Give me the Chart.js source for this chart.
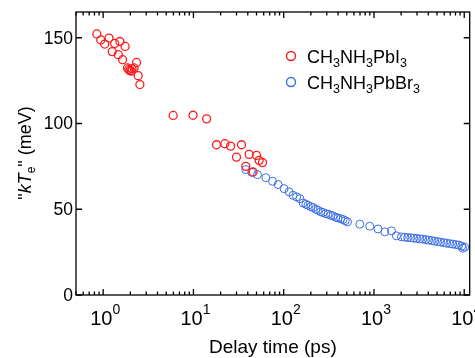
<!DOCTYPE html>
<html>
<head>
<meta charset="utf-8">
<script src="https://cdn.jsdelivr.net/npm/chart.js@4.4.1/dist/chart.umd.min.js"></script>
<style>
  html, body { margin: 0; padding: 0; background: #fff; }
  canvas { display: block; }
</style>
</head>
<body>
<canvas id="chart" width="475" height="358"></canvas>
<script>
// CH3NH3PbI3 (red)
const pbi3Time = [0.85, 0.94, 1.04, 1.16, 1.26, 1.34, 1.47, 1.53, 1.64, 1.75, 1.86, 1.92, 1.98, 2.05, 2.09, 2.2, 2.34, 2.44, 2.55,
  5.96, 9.9, 14.0, 18.0, 22.3, 25.8, 30.0, 34.1, 38.0, 41.4, 45.8, 50.0, 53.4, 58.2];
const pbi3Kt = [152.2, 148.7, 146.3, 149.8, 141.9, 146.7, 140.1, 147.8, 137.2, 144.9, 132.4, 131.5, 130.8, 130.5, 131.8, 132.4, 135.6, 127.9, 122.7,
  104.7, 104.8, 102.7, 87.6, 88.2, 86.8, 80.4, 87.6, 75.0, 82.0, 71.7, 81.4, 78.5, 77.2];

// CH3NH3PbBr3 (blue)
const pbbr3Time = [38, 44.3, 51.3, 63.4, 75.2, 86.7, 101, 115, 127, 139, 151, 164, 176, 186, 200, 212, 227, 240, 258, 273,
  292, 310, 332, 352, 378, 400, 429, 455, 481, 509, 697, 898, 1109, 1317, 1563, 1775, 2016, 2195, 2367, 2556,
  2760, 2980, 3215, 3470, 3746, 4044, 4366, 4713, 5087, 5492, 5928, 6400, 6908, 7457, 8050, 8690, 9380, 9600, 10120];
const pbbr3Kt = [73.1, 71.5, 70.2, 68.4, 66.3, 64.4, 62.0, 60.1, 58.1, 57.2, 56.2, 53.7, 52.9, 52.3, 51.5, 51.0, 50.0, 49.4, 48.5, 48.1,
  47.4, 47.1, 46.5, 46.1, 45.3, 44.9, 44.5, 44.0, 43.3, 42.6, 41.3, 40.1, 38.5, 36.8, 37.4, 34.5, 33.9, 33.7, 33.5, 33.4,
  33.1, 33.0, 32.7, 32.6, 32.3, 32.0, 31.7, 31.4, 31.1, 30.8, 30.5, 30.2, 29.9, 29.7, 29.4, 29.1, 28.5, 27.3, 27.9];

const yTicks = [0, 50, 100, 150];
const xDecades = [1, 10, 100, 1000, 10000];
const xExponents = ["0", "1", "2", "3", "4"];

const seriesNames = ["CH|3|NH|3|PbI|3", "CH|3|NH|3|PbBr|3"];
const seriesColors = ["#ff1a1a", "#3c6fe6"];

const FONT = "'Liberation Sans', Arial, sans-serif";

function toPoints(xs, ys) {
  return xs.map((x, i) => ({ x, y: ys[i] }));
}

// draws runs of text with different fonts / offsets, returns width
function drawRuns(ctx, runs, x, y, align) {
  let total = 0;
  runs.forEach((r) => { ctx.font = r.font; total += ctx.measureText(r.t).width; });
  let cx = align === "center" ? x - total / 2 : x;
  ctx.textAlign = "left";
  runs.forEach((r) => {
    ctx.font = r.font;
    ctx.fillText(r.t, cx, y + (r.dy || 0));
    cx += ctx.measureText(r.t).width;
  });
  return total;
}

const framePlugin = {
  id: "frame",
  afterDraw(chart) {
    const { ctx, chartArea: a, scales } = chart;
    const xs = scales.x, ys = scales.y;
    ctx.save();
    ctx.strokeStyle = "#000";
    ctx.fillStyle = "#000";
    ctx.lineWidth = 1.3;
    ctx.strokeRect(a.left, a.top, a.right - a.left, a.bottom - a.top);

    // x ticks (inward, top and bottom)
    ctx.beginPath();
    for (let d = 0.1; d <= 10000; d *= 10) {
      for (let m = 1; m <= 9; m++) {
        const v = d * m;
        if (v < xs.min || v > xs.max) continue;
        const px = xs.getPixelForValue(v);
        const len = m === 1 ? 6 : 3.5;
        ctx.moveTo(px, a.bottom); ctx.lineTo(px, a.bottom - len);
        ctx.moveTo(px, a.top); ctx.lineTo(px, a.top + len);
      }
    }
    yTicks.forEach((v) => {
      const py = ys.getPixelForValue(v);
      ctx.moveTo(a.left, py); ctx.lineTo(a.left + 6, py);
      ctx.moveTo(a.right, py); ctx.lineTo(a.right - 6, py);
    });
    ctx.stroke();

    // y tick labels
    ctx.textBaseline = "middle";
    ctx.textAlign = "right";
    ctx.font = "17.5px " + FONT;
    yTicks.forEach((v) => {
      ctx.fillText(String(v), a.left - 3, ys.getPixelForValue(v) + 1);
    });

    // x tick labels 10^n
    ctx.textBaseline = "alphabetic";
    xDecades.forEach((v, i) => {
      const px = xs.getPixelForValue(v);
      drawRuns(ctx, [
        { t: "10", font: "20px " + FONT },
        { t: xExponents[i], font: "14px " + FONT, dy: -11 }
      ], px + 2, 325, "center");
    });

    // x title
    ctx.font = "19px " + FONT;
    ctx.textAlign = "center";
    ctx.fillText("Delay time (ps)", (a.left + a.right) / 2, 353);

    // y title
    ctx.save();
    ctx.translate(31, 153);
    ctx.rotate(-Math.PI / 2);
    drawRuns(ctx, [
      { t: "\"", font: "18px " + FONT },
      { t: "kT", font: "italic 18px " + FONT },
      { t: "e", font: "12px " + FONT, dy: 4 },
      { t: "\" (meV)", font: "18px " + FONT }
    ], 0, 0, "center");
    ctx.restore();

    // legend
    seriesNames.forEach((name, i) => {
      const cy = 56 + i * 26;
      ctx.beginPath();
      ctx.strokeStyle = seriesColors[i];
      ctx.lineWidth = 1.4;
      ctx.arc(291, cy, 4.5, 0, Math.PI * 2);
      ctx.stroke();
      ctx.fillStyle = "#000";
      const runs = name.split("|").map((t, k) => (k % 2 === 1
        ? { t, font: "12.5px " + FONT, dy: 4 }
        : { t, font: "18px " + FONT }));
      drawRuns(ctx, runs, 307, cy + 7, "left");
    });
    ctx.restore();
  }
};

new Chart(document.getElementById("chart"), {
  type: "scatter",
  data: {
    datasets: [
      {
        label: "CH3NH3PbI3",
        data: toPoints(pbi3Time, pbi3Kt),
        borderColor: seriesColors[0],
        backgroundColor: "rgba(0,0,0,0)",
        pointRadius: 4,
        borderWidth: 1.3,
      },
      {
        label: "CH3NH3PbBr3",
        data: toPoints(pbbr3Time, pbbr3Kt),
        borderColor: seriesColors[1],
        backgroundColor: "rgba(0,0,0,0)",
        pointRadius: 4,
        borderWidth: 1,
      },
    ],
  },
  options: {
    responsive: false,
    animation: false,
    layout: { padding: { left: 76, right: 5, top: 12, bottom: 63 } },
    plugins: { legend: { display: false }, tooltip: { enabled: false } },
    scales: {
      x: { type: "logarithmic", min: 0.5, max: 11500, display: false },
      y: { type: "linear", min: 0, max: 165, display: false },
    },
  },
  plugins: [framePlugin],
});
</script>
</body>
</html>
